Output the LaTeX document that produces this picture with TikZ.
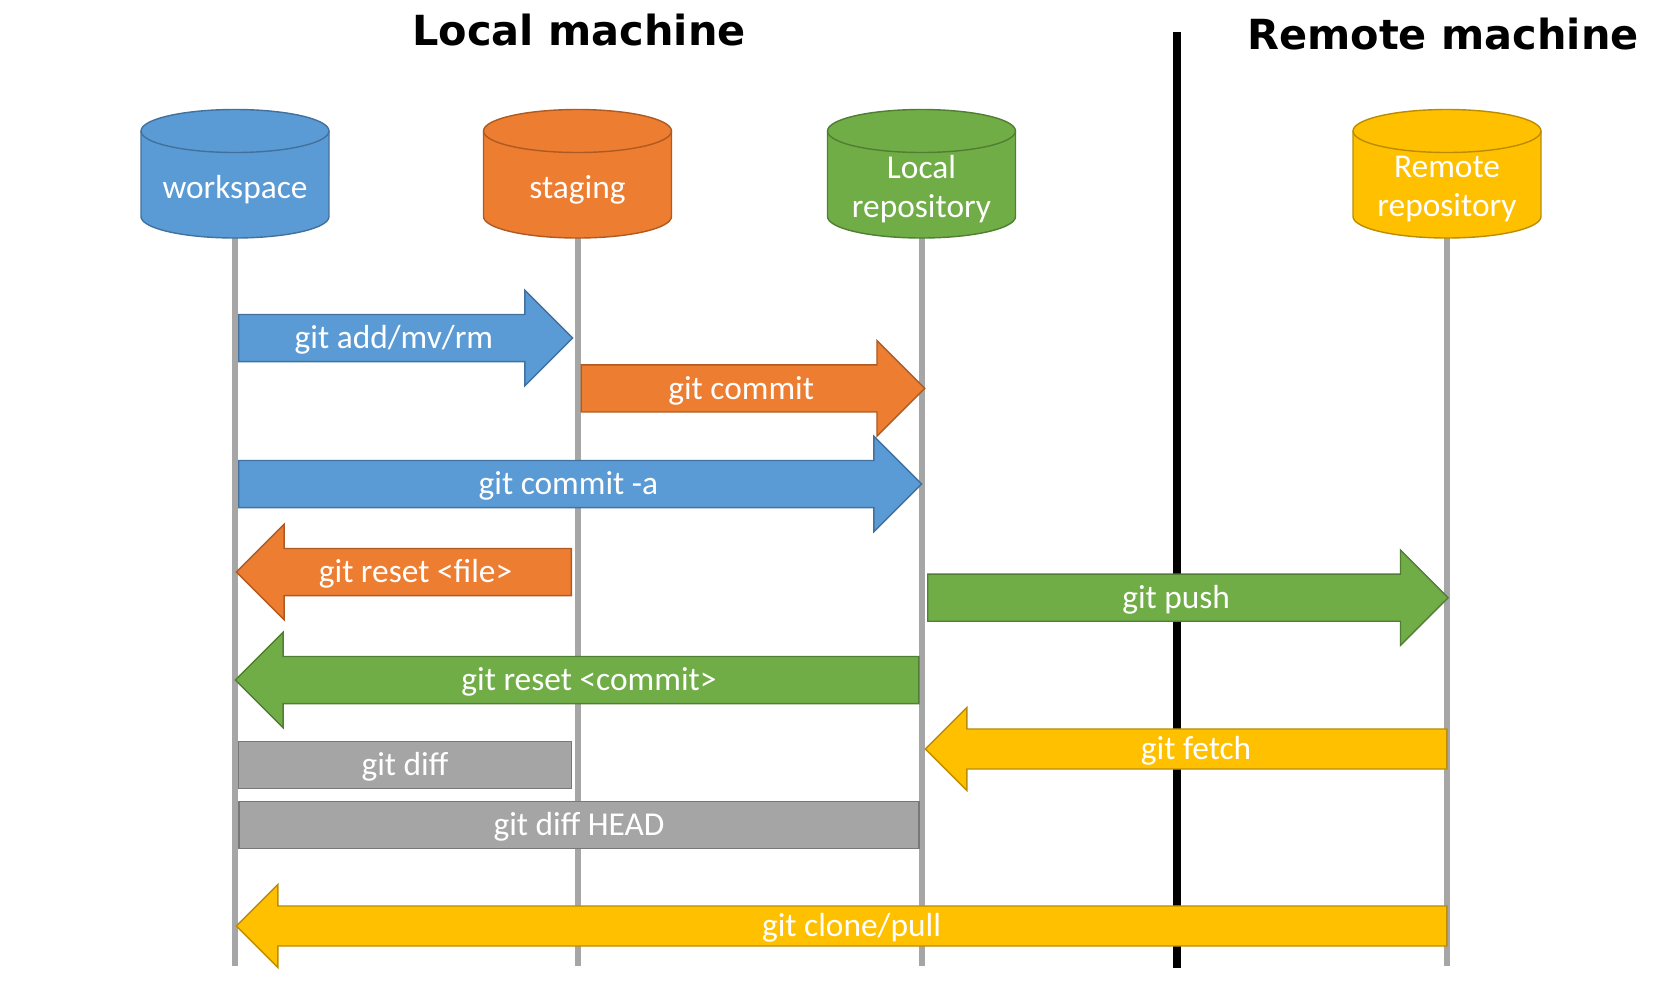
\documentclass[tikz,border=0pt]{standalone}
\usepackage{fontspec}
\setmainfont{Carlito}
\newfontfamily\titlefont{DejaVu Sans}
\usetikzlibrary{shapes.arrows,backgrounds}
\definecolor{gitblue}{HTML}{5B9BD5}
\definecolor{gitblueline}{HTML}{41719C}
\definecolor{gitorange}{HTML}{ED7D31}
\definecolor{gitorangeline}{HTML}{AE5A21}
\definecolor{gitgreen}{HTML}{70AD47}
\definecolor{gitgreenline}{HTML}{507E32}
\definecolor{gityellow}{HTML}{FFC000}
\definecolor{gityellowline}{HTML}{BC8C00}
\definecolor{gitgray}{HTML}{A5A5A5}
\definecolor{gitgrayline}{HTML}{787878}
\definecolor{lanegray}{HTML}{A6A6A6}
% body of a repository drum, #1 = x of its axis, #2 = colour
\newcommand{\repocylinder}[2]{%
  \filldraw[fill=#2, draw=#2line, line width=0.4pt] (#1-94,131) -- (#1-94,216.5)
    arc (180:360:9.4mm and 2.15mm) -- (#1+94,131) arc (0:180:9.4mm and 2.15mm) -- cycle;
  \draw[#2line, line width=0.4pt] (#1-94,131) arc (180:360:9.4mm and 2.15mm);}

\begin{document}
\begin{tikzpicture}[x=0.1mm,y=-0.1mm,
  every node/.style={font=\fontsize{9.5}{11.2}\selectfont, text=white},
  repo/.style={align=center, inner sep=0pt},
  goright/.style={single arrow, single arrow tip angle=90, single arrow head extend=2.42mm, anchor=tail,
    fill=#1, draw=#1line, line width=0.4pt, inner ysep=2pt, text height=7.6pt, text depth=1.4pt},
  goleft/.style={goright=#1, shape border rotate=180},
  thinleft/.style={goleft=#1, single arrow head extend=2.15mm, inner ysep=1pt},
  diffbox/.style={rectangle, fill=gitgray, draw=gitgrayline, line width=0.4pt, inner ysep=0pt,
    text height=7.6pt, text depth=1.4pt, minimum height=4.7mm},
  lane/.style={draw=lanegray, line width=0.6mm},
  title/.style={text=black, font=\titlefont\bfseries\fontsize{11.8}{14}\selectfont}]
\useasboundingbox (0,0) rectangle (1680,1000);

% titles and divider
\node[title]  (localTitle)    at ( 579, 30) {Local machine};
\node[title]  (remoteTitle)   at (1443, 34) {Remote machine};
\coordinate   (dividerTop)    at (1177, 32);
\coordinate   (dividerBottom) at (1177,968);
\draw[line width=0.75mm] (dividerTop) -- (dividerBottom);

% repositories
\repocylinder{235}{gitblue}
\repocylinder{577.5}{gitorange}
\repocylinder{921.5}{gitgreen}
\repocylinder{1447}{gityellow}
\node[repo]  (workspace)   at ( 235,190)   {workspace};
\node[repo]  (staging)     at ( 577.5,190) {staging};
\node[repo]  (localRepo)   at ( 921.5,189) {Local\\repository};
\node[repo]  (remoteRepo)  at (1447,189)   {Remote\\repository};
\coordinate  (laneBottom)  at (   0,966);

\begin{scope}[on background layer]
\draw[lane] (workspace)  -- (workspace  |- laneBottom);
\draw[lane] (staging)    -- (staging    |- laneBottom);
\draw[lane] (localRepo)  -- (localRepo  |- laneBottom);
\draw[lane] (remoteRepo) -- (remoteRepo |- laneBottom);
\end{scope}

% commands
\node[goright=gitblue, minimum height=33.4mm]     (add)         at ( 238,338)   {git add/mv/rm};
\node[goright=gitorange, minimum height=34.35mm]  (commit)      at ( 580.5,388.4) {git commit};
\node[goright=gitblue, minimum height=68.3mm]     (commitAll)   at ( 238,484)   {git commit -a};
\node[goleft=gitorange, minimum height=33.5mm]    (resetFile)   at ( 572,572)   {git reset <file>};
\node[goright=gitgreen, minimum height=52.05mm]   (push)        at ( 927,597.7) {git push};
\node[goleft=gitgreen, minimum height=68.35mm]    (resetCommit) at ( 919.6,680) {git reset <commit>};
\node[thinleft=gityellow, minimum height=52.15mm] (fetch)       at (1447.5,749) {git fetch};
\node[diffbox, minimum width=33.3mm]              (diff)        at ( 405,765)   {git diff};
\node[diffbox, minimum width=68.0mm]              (diffHead)    at ( 579,825)   {git diff HEAD};
\node[thinleft=gityellow, minimum height=121.05mm] (clonePull)  at (1447.5,926) {git clone/pull};
\end{tikzpicture}
\end{document}
